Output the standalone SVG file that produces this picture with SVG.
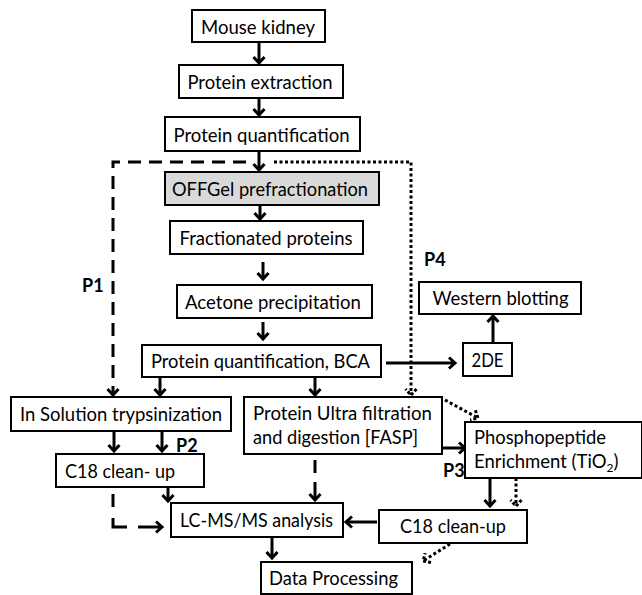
<svg xmlns="http://www.w3.org/2000/svg" width="642" height="595" viewBox="0 0 642 595">
<style>
.box{fill:#fff;stroke:#000;stroke-width:2}
.grey{fill:#d9d9d9}
.t{font-family:Lato,"Open Sans","Liberation Sans",sans-serif;font-size:18.5px;fill:#000}
.c{text-anchor:middle}
.lbl{font-family:Lato,"Open Sans","Liberation Sans",sans-serif;font-size:18px;font-weight:bold;fill:#000}
.ln{fill:none;stroke:#000;stroke-width:3}
.dash{stroke-dasharray:13,8}
.dot{stroke-dasharray:3,2.5}
</style>
<defs>
<marker id="ah" markerUnits="userSpaceOnUse" markerWidth="20" markerHeight="20" refX="0" refY="0" viewBox="-10 -10 20 20" orient="auto" overflow="visible">
<path d="M-6,-5.5 L0,0 L-6,5.5" fill="none" stroke="#000" stroke-width="3"/>
</marker>
<marker id="ahd" markerUnits="userSpaceOnUse" markerWidth="20" markerHeight="20" refX="0" refY="0" viewBox="-10 -10 20 20" orient="auto" overflow="visible">
<path d="M-6,-5.5 L0,0 L-6,5.5" fill="none" stroke="#000" stroke-width="3" stroke-dasharray="3,2"/>
</marker>
</defs>
<g id="connectors">
<path class="ln" d="M259,42 V63" marker-end="url(#ah)"/>
<path class="ln" d="M259,98 V115" marker-end="url(#ah)"/>
<path class="ln" d="M259,151 V170" marker-end="url(#ah)"/>
<path class="ln" d="M260,205 V219" marker-end="url(#ah)"/>
<path class="ln" d="M263,262 V279" marker-end="url(#ah)"/>
<path class="ln" d="M263,322 V339" marker-end="url(#ah)"/>
<path class="ln" d="M386,363 H455" marker-end="url(#ah)"/>
<path class="ln" d="M493,343 V316" marker-end="url(#ah)"/>
<path class="ln" d="M160,377 V395" marker-end="url(#ah)"/>
<path class="ln" d="M315,377 V395" marker-end="url(#ah)"/>
<path class="ln dash" d="M246,162 H113 V395" marker-end="url(#ah)"/>
<path class="ln dot" d="M274,162 H411 V395" marker-end="url(#ahd)"/>
<path class="ln dot" d="M445,400 L478,418" marker-end="url(#ahd)"/>
<path class="ln" d="M442,448 H465" marker-end="url(#ah)"/>
<path class="ln" d="M114,431 V451" marker-end="url(#ah)"/>
<path class="ln" d="M162,431 V451" marker-end="url(#ah)"/>
<path class="ln" d="M113,494 V507"/>
<path class="ln" d="M113,518 V527 H127"/>
<path class="ln" d="M138,527 H162" marker-end="url(#ah)"/>
<path class="ln" d="M168,484 V501" marker-end="url(#ah)"/>
<path class="ln" d="M315,460 V473"/>
<path class="ln" d="M315,482 V500" marker-end="url(#ah)"/>
<path class="ln" d="M377,522 H346" marker-end="url(#ah)"/>
<path class="ln" d="M490,478 V506" marker-end="url(#ah)"/>
<path class="ln dot" d="M516,478 V506" marker-end="url(#ahd)"/>
<path class="ln" d="M272,537 V558" marker-end="url(#ah)"/>
<path class="ln dot" d="M450,544 L423,561" marker-end="url(#ahd)"/>
</g>
<g id="mouse"><rect class="box" x="192" y="10" width="133" height="32"/><text class="t c" x="258" y="34" textLength="114" lengthAdjust="spacingAndGlyphs">Mouse kidney</text></g>
<g id="extraction"><rect class="box" x="179" y="65" width="164" height="33"/><text class="t c" x="260" y="89" textLength="145" lengthAdjust="spacingAndGlyphs">Protein extraction</text></g>
<g id="quant"><rect class="box" x="165" y="117" width="195" height="34"/><text class="t c" x="261.5" y="141.5" textLength="176" lengthAdjust="spacingAndGlyphs">Protein quantification</text></g>
<g id="offgel"><rect class="box grey" x="165" y="172" width="214" height="33"/><text class="t c" x="270" y="195.5" textLength="196" lengthAdjust="spacingAndGlyphs">OFFGel prefractionation</text></g>
<g id="fractionated"><rect class="box" x="170" y="221" width="193" height="33"/><text class="t c" x="266" y="245" textLength="173" lengthAdjust="spacingAndGlyphs">Fractionated proteins</text></g>
<g id="acetone"><rect class="box" x="177" y="285" width="195" height="33"/><text class="t c" x="273" y="308.5" textLength="176" lengthAdjust="spacingAndGlyphs">Acetone precipitation</text></g>
<g id="western"><rect class="box" x="419" y="282" width="162" height="32"/><text class="t c" x="500.5" y="305" textLength="136" lengthAdjust="spacingAndGlyphs">Western blotting</text></g>
<g id="twode"><rect class="box" x="463" y="343" width="49" height="33"/><text class="t c" x="487.5" y="366.5" textLength="32" lengthAdjust="spacingAndGlyphs">2DE</text></g>
<g id="bca"><rect class="box" x="142" y="345" width="239" height="32"/><text class="t c" x="260.5" y="368" textLength="219" lengthAdjust="spacingAndGlyphs">Protein quantification, BCA</text></g>
<g id="insolution"><rect class="box" x="11" y="397" width="220" height="34"/><text class="t" x="20" y="420.5" textLength="202" lengthAdjust="spacingAndGlyphs">In Solution trypsinization</text></g>
<g id="fasp"><rect class="box" x="244" y="397" width="198" height="57"/><text class="t" x="253" y="420" textLength="179" lengthAdjust="spacingAndGlyphs">Protein Ultra filtration</text><text class="t" x="253" y="444" textLength="165" lengthAdjust="spacingAndGlyphs">and digestion [FASP]</text></g>
<g id="phospho"><rect class="box" x="465" y="422" width="177" height="56"/><text class="t" x="474" y="444" textLength="132" lengthAdjust="spacingAndGlyphs">Phosphopeptide</text><text class="t" x="474" y="468">Enrichment (TiO<tspan font-size="12" dy="4">2</tspan><tspan dy="-4">)</tspan></text></g>
<g id="c18left"><rect class="box" x="56" y="454" width="148" height="33"/><text class="t" x="65" y="478" textLength="110" lengthAdjust="spacingAndGlyphs">C18 clean- up</text></g>
<g id="lcms"><rect class="box" x="171" y="503" width="172" height="34"/><text class="t" x="180" y="527" textLength="153" lengthAdjust="spacingAndGlyphs">LC-MS/MS analysis</text></g>
<g id="c18right"><rect class="box" x="379" y="510" width="148" height="33"/><text class="t" x="400" y="533" textLength="106" lengthAdjust="spacingAndGlyphs">C18 clean-up</text></g>
<g id="data"><rect class="box" x="261" y="562" width="151" height="32"/><text class="t" x="269" y="585" textLength="129" lengthAdjust="spacingAndGlyphs">Data Processing</text></g>
<g id="labels">
<text class="lbl" x="82" y="292">P1</text>
<text class="lbl" x="424" y="266">P4</text>
<text class="lbl" x="176" y="452">P2</text>
<text class="lbl" x="443" y="477">P3</text>
</g>
</svg>
